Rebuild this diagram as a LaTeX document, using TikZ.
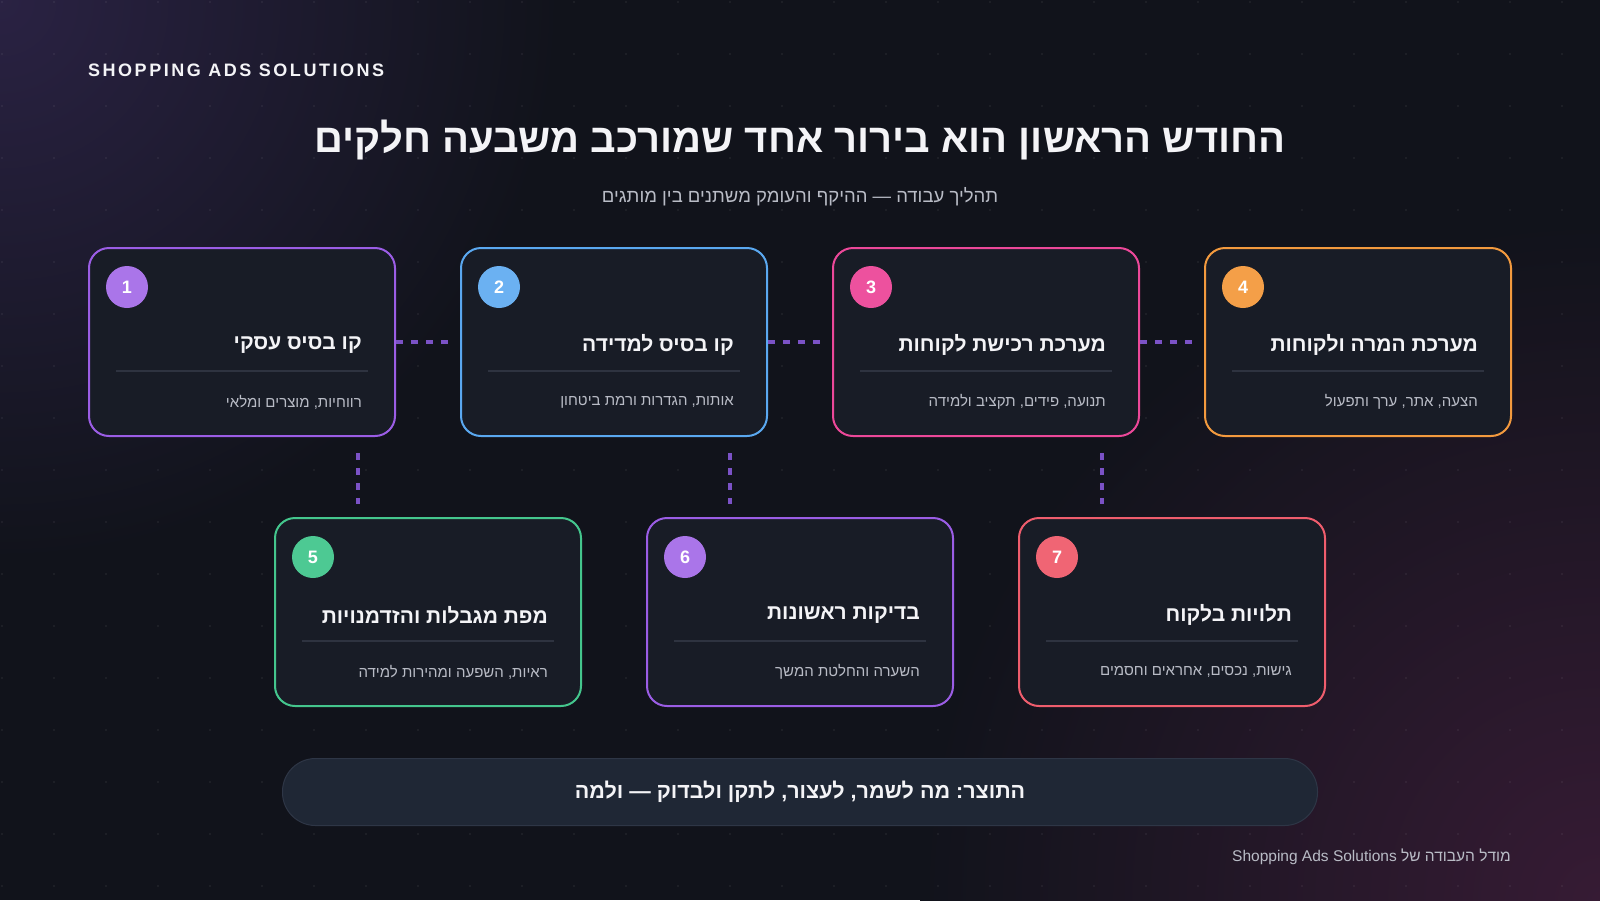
\documentclass[tikz,border=0pt]{standalone}
\usepackage{fontspec}
\setmainfont{Liberation Sans}
\newfontfamily\hebfont[Script=Hebrew]{Liberation Sans}
\newfontfamily\capsfont[LetterSpace=14]{Liberation Sans}
\TeXXeTstate=1
\frenchspacing
\usepackage{tikz}
\definecolor{bgbase}{HTML}{11131B}
\definecolor{bgviolet}{HTML}{2A2243}
\definecolor{bgplum}{HTML}{361B34}
\definecolor{cardfill}{HTML}{181C26}
\definecolor{rulegrey}{HTML}{2E3340}
\definecolor{linkpurple}{HTML}{7B52C6}
\definecolor{titlewhite}{HTML}{F4F4F7}
\definecolor{descgrey}{HTML}{B9BCC6}
\definecolor{bannerfill}{HTML}{1F2735}
\definecolor{bannerline}{HTML}{2E3646}
\definecolor{cPurple}{HTML}{9B5DE5}
\definecolor{cBlue}{HTML}{5AA8F0}
\definecolor{cPink}{HTML}{EC4899}
\definecolor{cOrange}{HTML}{F39A3E}
\definecolor{cGreen}{HTML}{44C68D}
\definecolor{cRed}{HTML}{EF5D6D}
\tikzstyle{stepBox}=[rectangle, rounded corners=20pt, minimum width=306pt, minimum height=188pt, fill=cardfill, line width=2pt]
\tikzstyle{numBadge}=[circle, minimum size=42pt, inner sep=0pt, text=white, font=\hebfont\bfseries\fontsize{18}{20}\selectfont]
\tikzstyle{stepTitle}=[anchor=east, inner sep=0pt, text=titlewhite, font=\hebfont\bfseries\fontsize{21}{25}\selectfont]
\tikzstyle{stepDesc}=[anchor=east, inner sep=0pt, text=descgrey, font=\hebfont\fontsize{15}{18}\selectfont]
\tikzstyle{stepRule}=[draw=rulegrey, line width=1.5pt]
\tikzstyle{linkDash}=[draw=linkpurple, line width=3.5pt, dash pattern=on 7pt off 8pt]

\begin{document}
\begin{tikzpicture}[x=1pt, y=-1pt]
\useasboundingbox (0,0) rectangle (1600,900);
\begin{scope}
\clip (0,0) rectangle (1600,900);
\fill[bgbase] (0,0) rectangle (1600,900);
\shade[inner color=bgviolet, outer color=bgbase] (0,0) circle (560pt);
\shade[inner color=bgplum, outer color=bgbase] (1600,900) circle (680pt);
\foreach \x in {2,54,...,1600}
  \foreach \y in {2,54,...,900}
    \fill[white, opacity=0.07] (\x,\y) circle (1.1pt);
\end{scope}

\node[anchor=west, inner sep=0pt, text=titlewhite, font=\capsfont\bfseries\fontsize{18}{21}\selectfont] (brand) at (88,70) {SHOPPING ADS SOLUTIONS};
\node[inner sep=0pt, text=titlewhite, font=\hebfont\bfseries\fontsize{40}{46}\selectfont] (headline) at (800,140) {\beginR החודש הראשון הוא בירור אחד שמורכב משבעה חלקים\endR};
\node[inner sep=0pt, text=descgrey, font=\hebfont\fontsize{18.5}{22}\selectfont] (subline) at (800,197) {\beginR תהליך עבודה — ההיקף והעומק משתנים בין מותגים\endR};

\node[stepBox, draw=cPurple] (b1) at (242,342) {};
\node[stepBox, draw=cBlue] (b2) at (614,342) {};
\node[stepBox, draw=cPink] (b3) at (986,342) {};
\node[stepBox, draw=cOrange] (b4) at (1358,342) {};
\node[stepBox, draw=cGreen] (b5) at (428,612) {};
\node[stepBox, draw=cPurple] (b6) at (800,612) {};
\node[stepBox, draw=cRed] (b7) at (1172,612) {};

\draw[linkDash, shorten >=8pt] (b1.east) -- (b2.west);
\draw[linkDash, shorten >=8pt] (b2.east) -- (b3.west);
\draw[linkDash, shorten >=8pt] (b3.east) -- (b4.west);
\draw[linkDash, shorten <=16pt, shorten >=13pt] ([xshift=-38pt]b1.south east) -- ([xshift=-38pt]b1.south east |- b5.north);
\draw[linkDash, shorten <=16pt, shorten >=13pt] ([xshift=-38pt]b2.south east) -- ([xshift=-38pt]b2.south east |- b6.north);
\draw[linkDash, shorten <=16pt, shorten >=13pt] ([xshift=-38pt]b3.south east) -- ([xshift=-38pt]b3.south east |- b7.north);

\node[numBadge, fill=cPurple!85!white] (n1) at ([xshift=39pt, yshift=-40pt]b1.north west) {1};
\node[numBadge, fill=cBlue!90!white] (n2) at ([xshift=39pt, yshift=-40pt]b2.north west) {2};
\node[numBadge, fill=cPink!95!white] (n3) at ([xshift=39pt, yshift=-40pt]b3.north west) {3};
\node[numBadge, fill=cOrange!95!white] (n4) at ([xshift=39pt, yshift=-40pt]b4.north west) {4};
\node[numBadge, fill=cGreen!95!white] (n5) at ([xshift=39pt, yshift=-40pt]b5.north west) {5};
\node[numBadge, fill=cPurple!85!white] (n6) at ([xshift=39pt, yshift=-40pt]b6.north west) {6};
\node[numBadge, fill=cRed!95!white] (n7) at ([xshift=39pt, yshift=-40pt]b7.north west) {7};

\node[stepTitle] (t1) at ([xshift=-34pt, yshift=-3pt]b1.east) {\beginR קו בסיס עסקי\endR};
\node[stepTitle] (t2) at ([xshift=-34pt, yshift=-3pt]b2.east) {\beginR קו בסיס למדידה\endR};
\node[stepTitle] (t3) at ([xshift=-34pt, yshift=-3pt]b3.east) {\beginR מערכת רכישת לקוחות\endR};
\node[stepTitle] (t4) at ([xshift=-34pt, yshift=-3pt]b4.east) {\beginR מערכת המרה ולקוחות\endR};
\node[stepTitle] (t5) at ([xshift=-34pt, yshift=-3pt]b5.east) {\beginR מפת מגבלות והזדמנויות\endR};
\node[stepTitle] (t6) at ([xshift=-34pt, yshift=-3pt]b6.east) {\beginR בדיקות ראשונות\endR};
\node[stepTitle] (t7) at ([xshift=-34pt, yshift=-3pt]b7.east) {\beginR תלויות בלקוח\endR};

\draw[stepRule] ([xshift=28pt, yshift=-29pt]b1.west) -- ([xshift=-28pt, yshift=-29pt]b1.east);
\draw[stepRule] ([xshift=28pt, yshift=-29pt]b2.west) -- ([xshift=-28pt, yshift=-29pt]b2.east);
\draw[stepRule] ([xshift=28pt, yshift=-29pt]b3.west) -- ([xshift=-28pt, yshift=-29pt]b3.east);
\draw[stepRule] ([xshift=28pt, yshift=-29pt]b4.west) -- ([xshift=-28pt, yshift=-29pt]b4.east);
\draw[stepRule] ([xshift=28pt, yshift=-29pt]b5.west) -- ([xshift=-28pt, yshift=-29pt]b5.east);
\draw[stepRule] ([xshift=28pt, yshift=-29pt]b6.west) -- ([xshift=-28pt, yshift=-29pt]b6.east);
\draw[stepRule] ([xshift=28pt, yshift=-29pt]b7.west) -- ([xshift=-28pt, yshift=-29pt]b7.east);

\node[stepDesc] (d1) at ([xshift=-34pt, yshift=-60pt]b1.east) {\beginR רווחיות, מוצרים ומלאי\endR};
\node[stepDesc] (d2) at ([xshift=-34pt, yshift=-60pt]b2.east) {\beginR אותות, הגדרות ורמת ביטחון\endR};
\node[stepDesc] (d3) at ([xshift=-34pt, yshift=-60pt]b3.east) {\beginR תנועה, פידים, תקציב ולמידה\endR};
\node[stepDesc] (d4) at ([xshift=-34pt, yshift=-60pt]b4.east) {\beginR הצעה, אתר, ערך ותפעול\endR};
\node[stepDesc] (d5) at ([xshift=-34pt, yshift=-60pt]b5.east) {\beginR ראיות, השפעה ומהירות למידה\endR};
\node[stepDesc] (d6) at ([xshift=-34pt, yshift=-60pt]b6.east) {\beginR השערה והחלטת המשך\endR};
\node[stepDesc] (d7) at ([xshift=-34pt, yshift=-60pt]b7.east) {\beginR גישות, נכסים, אחראים וחסמים\endR};

\node[rectangle, rounded corners=33pt, minimum width=1035pt, minimum height=67pt, fill=bannerfill, draw=bannerline, line width=1pt, text=titlewhite, font=\hebfont\bfseries\fontsize{21.5}{25}\selectfont] (result) at (800,792) {\beginR התוצר: מה לשמר, לעצור, לתקן ולבדוק — ולמה\endR};
\node[anchor=east, inner sep=0pt, text=descgrey, font=\hebfont\fontsize{15.5}{18}\selectfont] (footer) at (1511,857) {\beginR מודל העבודה של \beginL Shopping Ads Solutions\endL\endR};
\end{tikzpicture}
\end{document}
